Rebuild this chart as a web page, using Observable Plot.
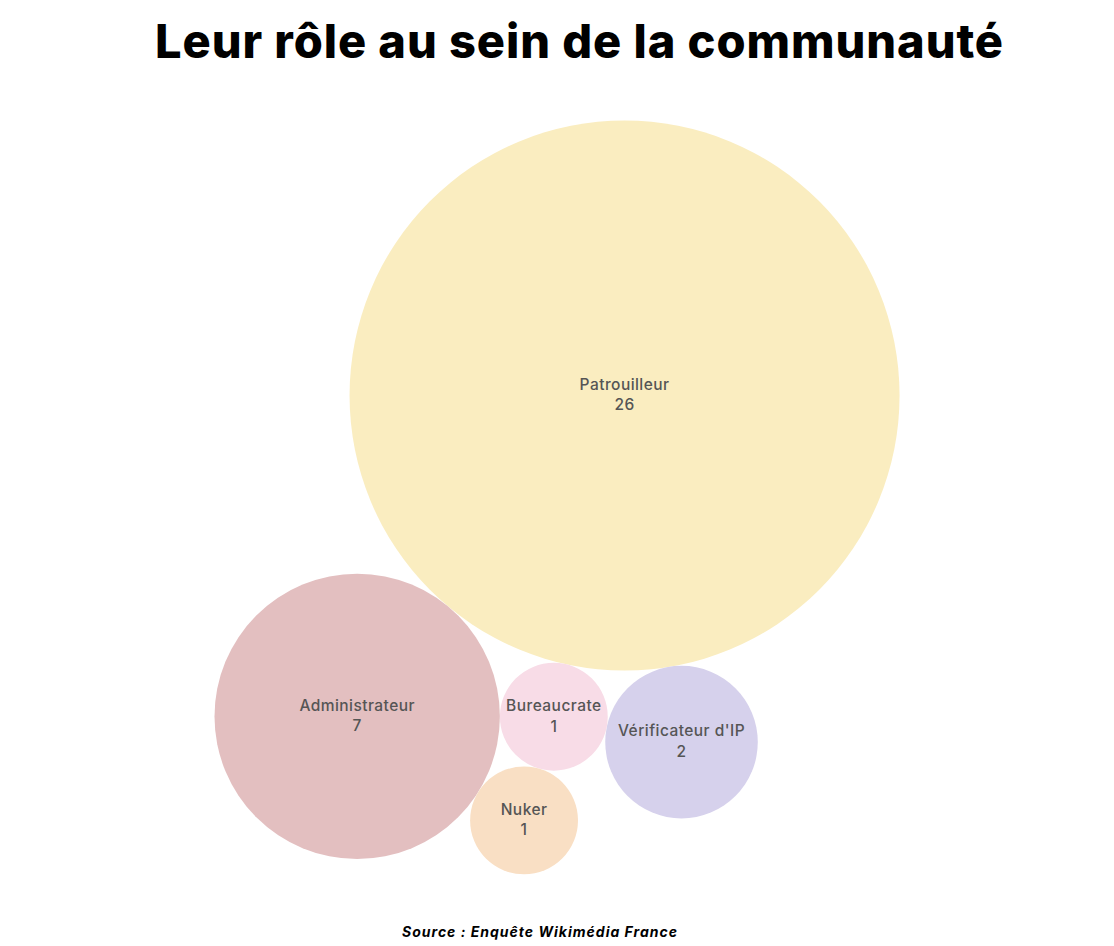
<!DOCTYPE html>
<html><head><meta charset="utf-8">
<script src="https://cdn.jsdelivr.net/npm/d3@7"></script>
<script src="https://cdn.jsdelivr.net/npm/@observablehq/plot@0.6"></script>
<style>
body{margin:0;background:#fff;width:1114px;overflow:hidden;}
#title{margin:0;height:90px;line-height:81px;font-family:Inter,"Open Sans",sans-serif;font-weight:800;font-size:47px;color:#000;text-align:center;padding-left:45px;white-space:nowrap;box-sizing:border-box;}
#chart{height:820px;}
#chart svg text{letter-spacing:0.45px;}
#source{height:36px;line-height:44px;text-align:center;font-family:Inter,"Open Sans",sans-serif;font-style:italic;font-weight:700;font-size:14px;color:#000;padding-right:34px;box-sizing:border-box;white-space:nowrap;}
</style></head>
<body>
<div id="title"><span id="tt">Leur rôle au sein de la communauté</span></div>
<div id="chart"></div>
<div id="source"><span id="src">Source : Enquête Wikimédia France</span></div>
<script>
// Data
const roles = ["Patrouilleur", "Administrateur", "Bureaucrate", "Vérificateur d'IP", "Nuker"];
const counts = [26, 7, 1, 2, 1];
const fills = ["#FAEDC0", "#E3BFC0", "#F8DCE7", "#D6D1EC", "#F9DFC4"];

// Packing layout spec: each bubble touches two earlier bubbles, on one side
const touches = [[], [0], [0, 1], [0, 2], [1, 2]];
const sides = [0, 0, -1, -1, 1];
const firstAngleDeg = 129.8;

const rOpts = {type: "sqrt", domain: [0, 26], range: [0, 275]};
const rScale = Plot.scale({r: rOpts});
const nodes = roles.map((role, i) => ({role, count: counts[i], r: rScale.apply(counts[i])}));

nodes[0].x = 0; nodes[0].y = 0;
const a0 = firstAngleDeg * Math.PI / 180;
const d01 = nodes[0].r + nodes[1].r;
nodes[1].x = d01 * Math.cos(a0); nodes[1].y = d01 * Math.sin(a0);
function place(a, b, c, s) {
  const dx = b.x - a.x, dy = b.y - a.y, d = Math.hypot(dx, dy);
  const ea = a.r + c.r, eb = b.r + c.r;
  const x = (d * d + ea * ea - eb * eb) / (2 * d);
  const h = Math.sqrt(Math.max(0, ea * ea - x * x));
  const ux = dx / d, uy = dy / d, nx = -uy, ny = ux;
  c.x = a.x + x * ux + s * h * nx;
  c.y = a.y + x * uy + s * h * ny;
}
for (let i = 2; i < nodes.length; i++) place(nodes[touches[i][0]], nodes[touches[i][1]], nodes[i], sides[i]);

const bx0 = d3.min(nodes, d => d.x - d.r), bx1 = d3.max(nodes, d => d.x + d.r);
const by0 = d3.min(nodes, d => d.y - d.r), by1 = d3.max(nodes, d => d.y + d.r);
const padLeft = 214, padTop = 30;

const chart = Plot.plot({
  width: 1114, height: 820,
  margin: 0,
  style: {background: "#fff", overflow: "visible"},
  x: {domain: [bx0, bx1], range: [padLeft, padLeft + (bx1 - bx0)], axis: null},
  y: {domain: [by0, by1], range: [padTop, padTop + (by1 - by0)], axis: null},
  r: rOpts,
  color: {type: "ordinal", domain: roles, range: fills},
  marks: [
    Plot.dot(nodes, {x: "x", y: "y", r: "count", fill: "role", fillOpacity: 1}),
    Plot.text(nodes, {x: "x", y: "y", dy: -2, text: d => `${d.role}\n${d.count}`, fill: "#555555",
      fontSize: 15.5, lineHeight: 1.33, fontFamily: "Inter, 'Open Sans', sans-serif", fontWeight: 500})
  ]
});
document.getElementById("chart").appendChild(chart);

// fit text widths
function fit(id, target) {
  const el = document.getElementById(id);
  const w = el.getBoundingClientRect().width;
  el.style.letterSpacing = ((target - w) / el.textContent.length) + "px";
}
fit("tt", 849);
fit("src", 276);
</script>
</body></html>
